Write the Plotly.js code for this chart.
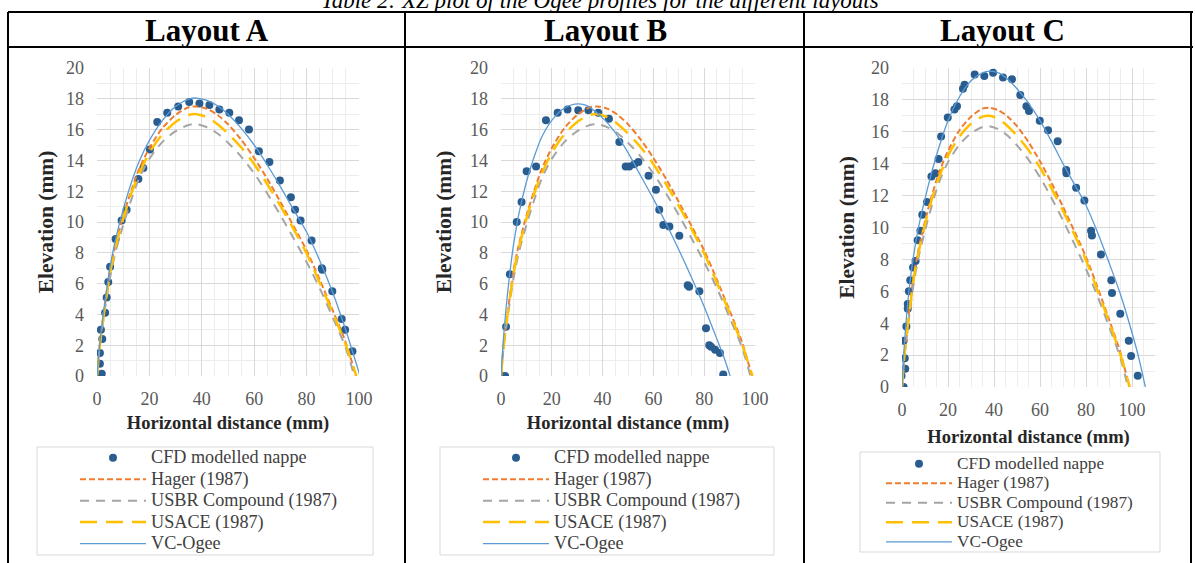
<!DOCTYPE html>
<html>
<head>
<meta charset="utf-8">
<script src="https://cdn.plot.ly/plotly-3.0.1.min.js"></script>
<style>
html,body{margin:0;padding:0;background:#fff;}
#chart{width:1195px;height:563px;}
</style>
</head>
<body>
<div id="chart"></div>
<script>
// ---------- DATA ----------
const layoutNames = ["Layout A", "Layout B", "Layout C"];
const seriesNames = ["CFD modelled nappe", "Hager (1987)", "USBR Compound (1987)", "USACE (1987)", "VC-Ogee"];
const caption = "Table 2: XZ plot of the Ogee profiles for the different layouts";
const xTickVals = [0, 20, 40, 60, 80, 100];
const yTickVals = [0, 2, 4, 6, 8, 10, 12, 14, 16, 18, 20];

// Theoretical profiles (same in all three layouts)
const hagerX = [0, 1, 2, 3, 4, 5, 7, 10, 13, 16, 20, 25, 30, 35, 38, 42, 46, 50, 55, 60, 65, 70, 75, 80, 85, 90, 95, 98.8];
const hagerY = [0, 1.9, 3.3, 4.6, 5.8, 6.9, 8.5, 10.4, 12.0, 13.4, 14.8, 16.1, 16.95, 17.45, 17.5, 17.35, 16.95, 16.35, 15.35, 14.15, 12.8, 11.3, 9.75, 8.15, 6.25, 4.25, 2.15, 0];
const usbrX = [0, 1, 2, 3, 4, 5, 7, 10, 13, 16, 20, 25, 30, 35, 38, 42, 46, 50, 55, 60, 65, 70, 75, 80, 85, 90, 95, 98.2];
const usbrY = [0, 1.8, 3.1, 4.3, 5.4, 6.4, 8.0, 9.8, 11.4, 12.8, 14.1, 15.2, 15.9, 16.3, 16.35, 16.15, 15.75, 15.15, 14.25, 13.15, 11.85, 10.45, 8.95, 7.4, 5.7, 3.8, 1.8, 0];
const usaceX = [0, 1, 2, 3, 4, 5, 7, 10, 13, 16, 20, 25, 30, 35, 38, 42, 46, 50, 55, 60, 65, 70, 75, 80, 85, 90, 95, 99];
const usaceY = [0, 1.9, 3.2, 4.5, 5.6, 6.7, 8.3, 10.2, 11.8, 13.1, 14.5, 15.7, 16.5, 16.95, 17.0, 16.8, 16.35, 15.75, 14.85, 13.75, 12.45, 11.05, 9.55, 7.95, 6.05, 4.1, 2.0, 0];

// VC-Ogee profiles
const vcAX = [0, 1, 2, 3, 4, 5, 7, 10, 13, 16, 20, 25, 30, 35, 38, 42, 46, 50, 55, 60, 65, 70, 75, 80, 85, 90, 95, 100.4];
const vcAY = [0, 2.0, 3.5, 4.8, 6.0, 7.1, 8.8, 10.8, 12.5, 13.9, 15.3, 16.6, 17.5, 17.98, 18.05, 17.9, 17.55, 17.0, 16.1, 15.0, 13.7, 12.3, 10.8, 9.35, 7.5, 5.4, 2.95, 0];
const vcBX = [0, 1, 2, 3, 4, 5, 7, 10, 13, 16, 20, 25, 29, 33, 37, 41, 45, 50, 55, 60, 65, 70, 75, 80, 85, 88, 90.2];
const vcBY = [0, 2.5, 4.4, 6.0, 7.4, 8.6, 10.5, 12.6, 14.2, 15.5, 16.6, 17.4, 17.65, 17.6, 17.2, 16.6, 15.8, 14.5, 13.0, 11.5, 9.9, 8.2, 6.4, 4.5, 2.4, 1.1, 0];
const vcCX = [0, 1, 2, 3, 4, 5, 7, 10, 13, 16, 20, 25, 30, 35, 38, 42, 46, 50, 55, 60, 65, 70, 75, 80, 85, 90, 95, 100, 103, 105.8];
const vcCY = [0, 2.6, 4.5, 6.0, 7.2, 8.2, 9.9, 11.8, 13.5, 15.0, 16.7, 18.2, 19.2, 19.7, 19.8, 19.7, 19.3, 18.7, 17.8, 16.7, 15.4, 14.0, 12.7, 11.4, 9.7, 7.8, 5.8, 3.4, 1.8, 0];

// CFD modelled nappe points
const cfdAX = [0.2, 0.8, 1.8, 1.1, 1.1, 2.0, 1.5, 3.1, 3.7, 4.3, 5.0, 7.1, 9.4, 11.3, 15.8, 17.7, 20.2, 23.0, 26.8, 31.0, 35.2, 39.1, 42.9, 46.7, 50.5, 54.2, 58.0, 61.8, 65.8, 69.8, 74.0, 75.6, 77.7, 81.9, 85.8, 86.0, 89.8, 93.4, 94.7, 97.5];
const cfdAY = [0, 0, 0.15, 0.8, 1.5, 2.4, 3.0, 4.1, 5.1, 6.1, 7.1, 8.9, 10.1, 10.8, 12.8, 13.5, 14.7, 16.5, 17.1, 17.5, 17.8, 17.7, 17.6, 17.3, 17.1, 16.6, 16.0, 14.6, 13.9, 12.7, 11.6, 10.8, 10.1, 8.8, 7.0, 6.9, 5.5, 3.7, 3.0, 1.6];
const cfdBX = [-0.5, 0.3, 1.6, 2.0, 3.5, 6.2, 8.1, 10.1, 13.8, 17.7, 22.3, 26.2, 30.4, 34.4, 38.3, 42.5, 46.6, 49.1, 50.5, 52.5, 54.1, 58.1, 61.0, 62.3, 63.9, 66.3, 70.2, 73.5, 74.1, 78.1, 80.7, 82.0, 82.7, 84.3, 86.2, 87.5];
const cfdBY = [0, 0, 0, 3.2, 6.6, 10.0, 11.3, 13.3, 13.6, 16.6, 17.1, 17.3, 17.25, 17.25, 17.1, 16.7, 15.2, 13.6, 13.6, 13.75, 13.9, 13.0, 12.1, 10.8, 9.8, 9.7, 9.1, 5.9, 5.8, 5.5, 3.1, 2.0, 1.9, 1.7, 1.5, 0.1];
const cfdCX = [-0.3, 0.7, -0.2, 1.4, 1.2, 0.7, 1.9, 2.5, 2.5, 3.0, 3.6, 4.8, 5.9, 6.8, 8.0, 8.8, 10.9, 12.8, 14.5, 15.9, 17.0, 19.9, 22.8, 23.9, 26.5, 27.2, 31.6, 35.8, 39.6, 43.9, 47.8, 51.4, 54.1, 55.2, 59.9, 63.5, 67.7, 71.4, 71.5, 75.7, 79.3, 82.2, 82.6, 86.5, 91.0, 91.3, 94.9, 98.6, 99.6, 102.5];
const cfdCY = [0, 0, 0.7, 1.15, 1.8, 2.9, 3.8, 4.9, 5.2, 6.0, 6.7, 7.5, 7.9, 9.2, 9.8, 10.8, 11.6, 13.2, 13.4, 14.3, 15.7, 16.9, 17.4, 17.6, 18.7, 18.95, 19.6, 19.5, 19.7, 19.4, 19.3, 18.3, 17.6, 17.3, 16.7, 16.1, 15.4, 13.6, 13.4, 12.5, 11.7, 9.8, 9.5, 8.3, 6.7, 5.9, 4.6, 2.9, 1.95, 0.7];

// ---------- STYLES ----------
const W = 1195, H = 563;
const px = v => v / W;
const py = v => 1 - v / H;
const serif = '"Liberation Serif", "Times New Roman", Times, serif';
const colDot = "#2a5d8f", colHager = "#ED7D31", colUsbr = "#A5A5A5", colUsace = "#FFC000", colVc = "#5B9BD5";

const panels = [
  {cfdX: cfdAX, cfdY: cfdAY, vcX: vcAX, vcY: vcAY, xr: [0, 100], dom: [97, 359], top: 68, bot: 376, leg: "legend", ts: 18.2, xs: 8, ys: 6},
  {cfdX: cfdBX, cfdY: cfdBY, vcX: vcBX, vcY: vcBY, xr: [0, 100], dom: [501, 755], top: 68, bot: 376, leg: "legend2", ts: 18.2, xs: 8, ys: 12},
  {cfdX: cfdCX, cfdY: cfdCY, vcX: vcCX, vcY: vcCY, xr: [0, 110], dom: [902, 1155], top: 68, bot: 387, leg: "legend3", ts: 17.2, xs: 11, ys: 10}
];

const traces = [];
const layout = {
  width: W, height: H,
  margin: {l: 0, r: 0, t: 0, b: 0, autoexpand: false},
  paper_bgcolor: "#ffffff", plot_bgcolor: "#ffffff",
  font: {family: serif, color: "#404040"},
  shapes: [], annotations: []
};

const legName = (name, size) => '<span style="font-size:' + size + 'px">' + name + '</span>';

panels.forEach((p, i) => {
  const n = i === 0 ? "" : String(i + 1);
  const xa = "x" + n, ya = "y" + n;
  const common = {xaxis: xa, yaxis: ya, legend: p.leg, hoverinfo: "skip"};
  traces.push(Object.assign({type: "scatter", mode: "markers", x: p.cfdX, y: p.cfdY, name: legName(seriesNames[0], p.ts),
    marker: {color: colDot, size: 8, line: {width: 0}}}, common));
  traces.push(Object.assign({type: "scatter", mode: "lines", x: hagerX, y: hagerY, name: legName(seriesNames[1], p.ts),
    line: {color: colHager, width: 2, dash: "6px,3px", shape: "spline", smoothing: 0.8}}, common));
  traces.push(Object.assign({type: "scatter", mode: "lines", x: usbrX, y: usbrY, name: legName(seriesNames[2], p.ts),
    line: {color: colUsbr, width: 2, dash: "9px,7px", shape: "spline", smoothing: 0.8}}, common));
  traces.push(Object.assign({type: "scatter", mode: "lines", x: usaceX, y: usaceY, name: legName(seriesNames[3], p.ts),
    line: {color: colUsace, width: 2.5, dash: "17px,9px", shape: "spline", smoothing: 0.8}}, common));
  traces.push(Object.assign({type: "scatter", mode: "lines", x: p.vcX, y: p.vcY, name: legName(seriesNames[4], p.ts),
    line: {color: colVc, width: 1.3, shape: "spline", smoothing: 0.8}}, common));

  layout["xaxis" + n] = {
    domain: [px(p.dom[0]), px(p.dom[1])], range: p.xr, anchor: ya,
    tickmode: "array", tickvals: xTickVals, showgrid: true, gridcolor: "#d9d9d9", gridwidth: 1,
    minor: {dtick: 5, showgrid: true, gridcolor: "#ededed", gridwidth: 1},
    zeroline: false, showline: false, ticks: "", ticklabelstandoff: 10,
    tickfont: {family: serif, size: 18, color: "#595959"},
    title: {text: "<b>Horizontal distance (mm)</b>", font: {family: serif, size: 18.5, color: "#262626"}, standoff: p.xs},
    fixedrange: true, automargin: false
  };
  layout["yaxis" + n] = {
    domain: [py(p.bot), py(p.top)], range: [0, 20], anchor: xa,
    tickmode: "array", tickvals: yTickVals, showgrid: true, gridcolor: "#d9d9d9", gridwidth: 1,
    minor: {dtick: 1, showgrid: true, gridcolor: "#ededed", gridwidth: 1},
    zeroline: false, showline: false, ticks: "", ticklabelstandoff: 12,
    tickfont: {family: serif, size: 18, color: "#595959"},
    title: {text: "<b>Elevation (mm)</b>", font: {family: serif, size: 21.5, color: "#262626"}, standoff: p.ys},
    fixedrange: true, automargin: false
  };
});

// Legends (base font size sets row spacing; span sets text size)
const legBoxes = [
  {x0: 37, x1: 373, y0: 447, y1: 555, lx: 75, top: 442, size: 14.2},
  {x0: 440, x1: 774, y0: 447, y1: 555, lx: 478, top: 442, size: 14.2},
  {x0: 860, x1: 1160, y0: 452, y1: 552, lx: 881, top: 449, size: 12.7}
];
legBoxes.forEach((b, i) => {
  const key = i === 0 ? "legend" : "legend" + (i + 1);
  layout[key] = {
    x: px(b.lx), y: py(b.top), xanchor: "left", yanchor: "top", xref: "paper", yref: "paper",
    bgcolor: "rgba(0,0,0,0)", borderwidth: 0, itemwidth: 66, tracegroupgap: 0,
    font: {family: serif, size: b.size, color: "#404040"}, itemclick: false, itemdoubleclick: false
  };
  layout.shapes.push({type: "rect", xref: "paper", yref: "paper", x0: px(b.x0), x1: px(b.x1), y0: py(b.y1), y1: py(b.y0),
    line: {color: "#d9d9d9", width: 1}, fillcolor: "rgba(0,0,0,0)"});
});

// Table lines
const tl = {color: "#000000", width: 2};
const tableLines = [
  [8, 12, 1193, 12], [8, 47, 1193, 47],
  [8, 12, 8, 563], [405, 12, 405, 563], [804, 12, 804, 563], [1191, 12, 1191, 563]
];
tableLines.forEach(l => layout.shapes.push({type: "line", xref: "paper", yref: "paper",
  x0: px(l[0]), y0: py(l[1]), x1: px(l[2]), y1: py(l[3]), line: tl}));

// Header texts
const headerX = [207, 605, 1002];
layoutNames.forEach((t, i) => layout.annotations.push({
  xref: "paper", yref: "paper", x: px(headerX[i]), y: py(30), xanchor: "center", yanchor: "middle",
  text: "<b>" + t + "</b>", showarrow: false, font: {family: serif, size: 31, color: "#000000"}
}));
// Caption (cut at top, as in the source page)
layout.annotations.push({
  xref: "paper", yref: "paper", x: px(600), y: py(0.5), xanchor: "center", yanchor: "middle",
  text: "<i>" + caption + "</i>", showarrow: false, font: {family: serif, size: 23, color: "#000000"}
});

Plotly.newPlot("chart", traces, layout, {displayModeBar: false, staticPlot: true});
</script>
</body>
</html>
